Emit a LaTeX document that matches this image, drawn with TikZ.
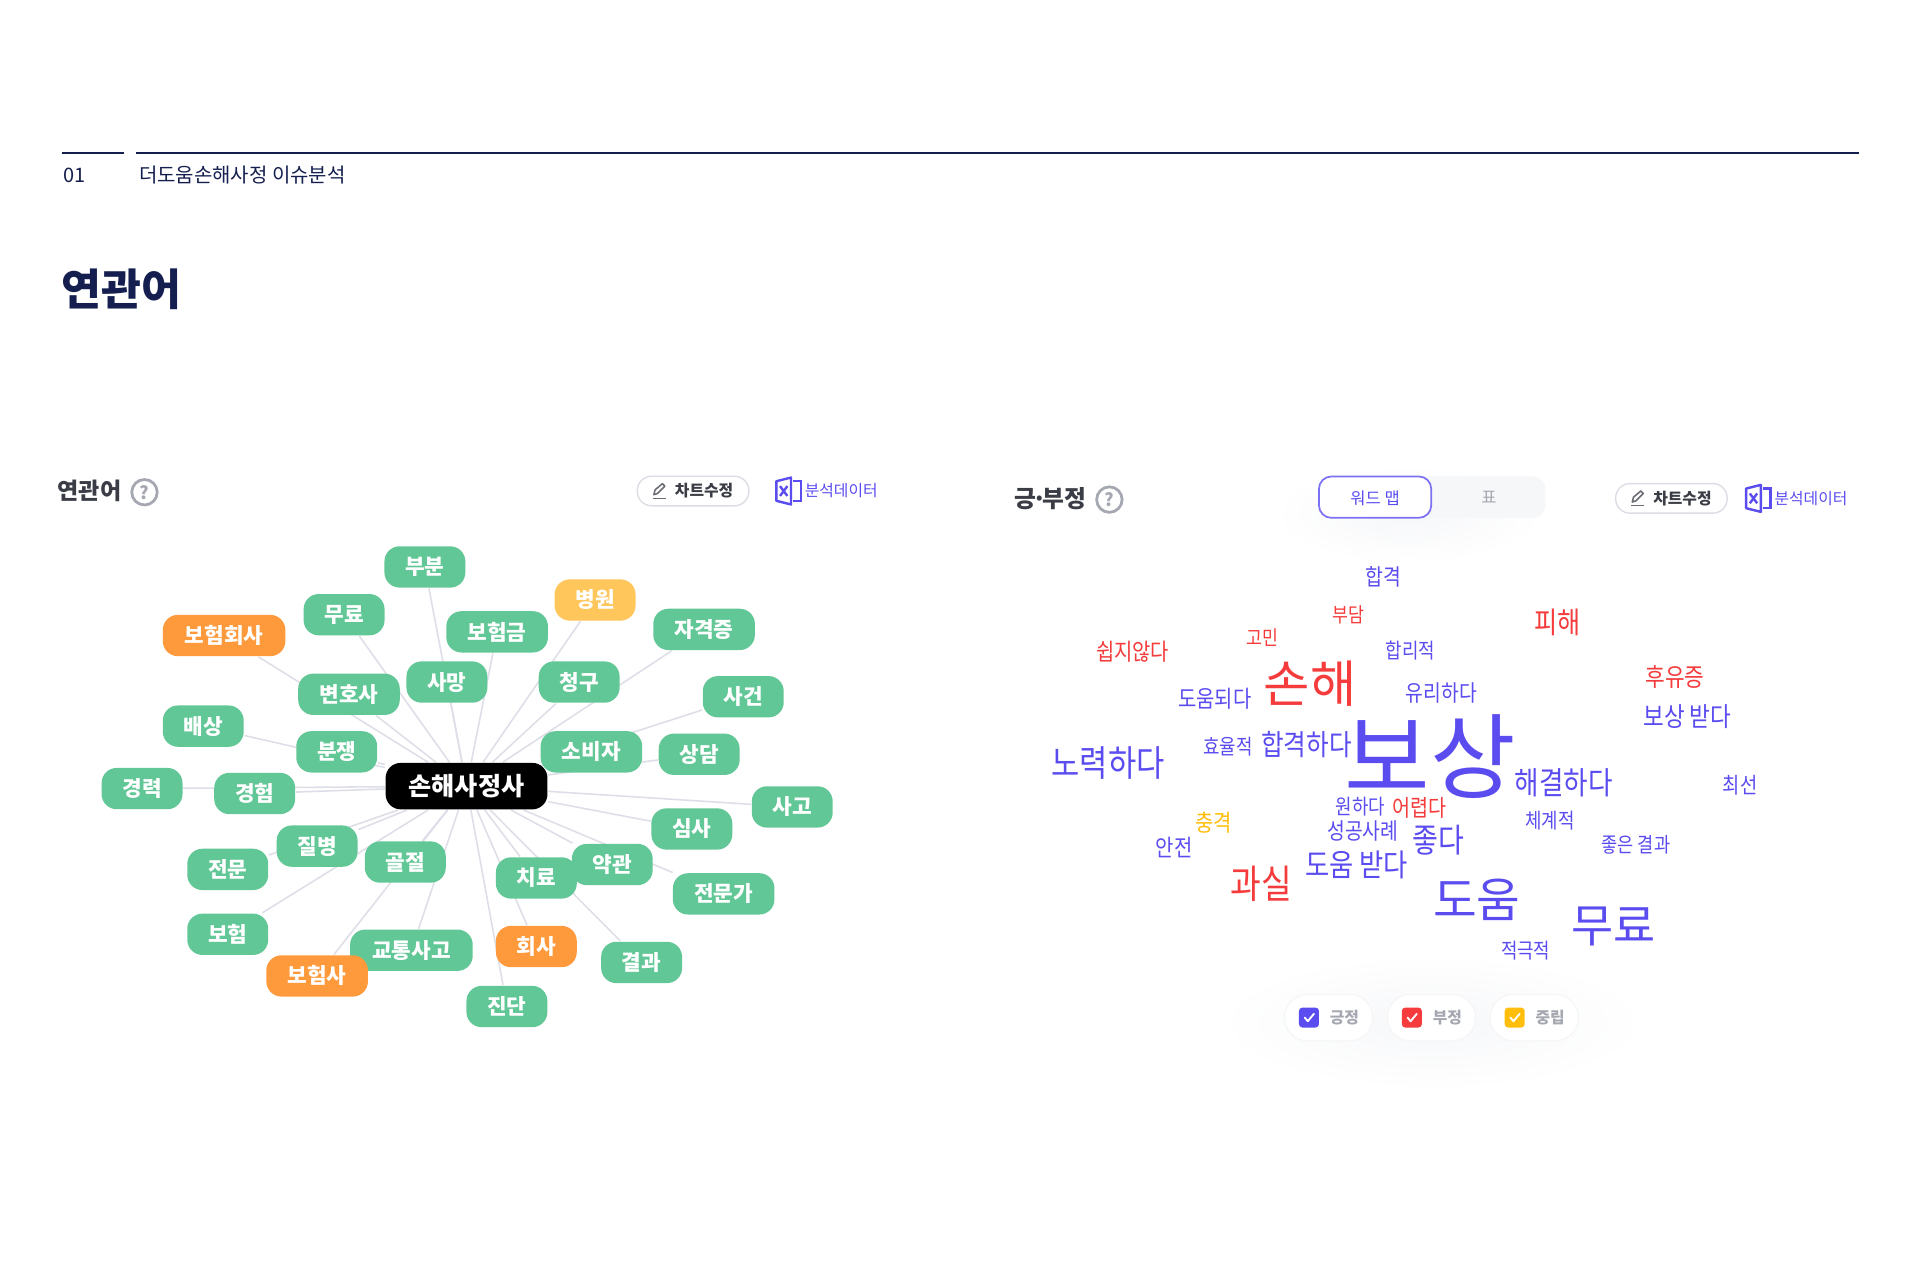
\documentclass[tikz,border=0pt]{standalone}
\usepackage{fontspec}
\setmainfont{Noto Sans CJK KR}
\newfontfamily\cloudfont[FakeStretch=0.85]{Noto Sans CJK KR}
\usetikzlibrary{backgrounds}
\definecolor{navy}{HTML}{141F4F}
\definecolor{inkdark}{HTML}{3A3D45}
\definecolor{mint}{HTML}{62C796}
\definecolor{tangerine}{HTML}{FF9A3C}
\definecolor{honey}{HTML}{FFC65C}
\definecolor{linkgray}{HTML}{DEDEE8}
\definecolor{violet}{HTML}{5B4CF0}
\definecolor{coral}{HTML}{F53B3B}
\definecolor{amber}{HTML}{FFBE0B}
\definecolor{softgray}{HTML}{A5A8B0}
\definecolor{palegray}{HTML}{F6F7F9}
\definecolor{pillline}{HTML}{DCDDE4}
\newcommand{\wsize}[1]{\fontsize{#1}{#1}\selectfont}
\tikzset{
	term/.style={fill=mint, text=white, rounded corners=4.4pt, minimum width=23.5pt, minimum height=12pt, inner sep=0pt, font=\bfseries\wsize{6.2}},
	termwide/.style={term, minimum width=29.5pt},
	termlong/.style={term, minimum width=35.6pt},
	hot/.style={fill=tangerine},
	warm/.style={fill=honey},
	link/.style={draw=linkgray, line width=.45pt},
	plus/.style={text=violet, inner sep=0pt},
	minus/.style={text=coral, inner sep=0pt},
	calm/.style={text=amber, inner sep=0pt},
	pill/.style={draw=pillline, fill=white, rounded corners=4.2pt, minimum width=32.4pt, minimum height=8.6pt, inner sep=0pt, line width=.4pt},
	chip/.style={fill=white, draw=black!4, rounded corners=6.7pt, minimum width=25.6pt, minimum height=13.5pt, inner sep=0pt, line width=.3pt},
	help/.style={circle, draw=softgray, text=softgray, line width=.8pt, minimum size=7.4pt, inner sep=0pt, font=\bfseries\wsize{5.2}},
	excelmark/.pic={
		\draw[violet, line width=.7pt, line join=round] (-10,-8) -- (2,-11) -- (2,11) -- (-10,8) -- cycle;
		\draw[violet, line width=.7pt] (4,-8) -- (10,-8) -- (10,8) -- (4,8);
		\draw[violet, line width=.7pt] (-7,-4) -- (-1,4) (-7,4) -- (-1,-4);
	},
	pencilmark/.pic={
		\draw[inkdark!75, line width=.45pt, line join=round] (-5,3) -- (-4,-1) -- (2,-6) -- (4,-4) -- (-2,2) -- cycle;
		\draw[inkdark!75, line width=.45pt] (-6,6) -- (5,6);
	},
	tickmark/.pic={
		\draw[white, line width=.55pt, line cap=round, line join=round] (-3.5,0) -- (-1,3) -- (4,-3);
	},
}
\begin{document}
\begin{tikzpicture}[x=0.0125cm, y=-0.0125cm]
	\useasboundingbox (0,0) rectangle (1568,1045.33);

	\coordinate (ruleA) at (51,125);
	\coordinate (ruleB) at (101,125);
	\coordinate (ruleC) at (111,125);
	\coordinate (ruleD) at (1518,125);
	\draw[navy, line width=.5pt] (ruleA) -- (ruleB);
	\draw[navy, line width=.5pt] (ruleC) -- (ruleD);
	\node[text=navy, font=\wsize{5.8}, inner sep=0pt] (chapternum) at (61,143) {01};
	\node[text=navy, font=\wsize{5.8}, inner sep=0pt, anchor=west] (chaptername) at (113,143) {더도움손해사정 이슈분석};
	\node[text=navy, font=\bfseries\wsize{12.6}, inner sep=0pt] (pagetitle) at (99,236) {연관어};

	\node[text=inkdark, font=\bfseries\wsize{6.7}, inner sep=0pt] (lefttitle) at (73,401) {연관어};
	\node[help] (lefthelp) at (118,402) {?};
	\node[pill] (leftedit) at (566,401) {};
	\pic at (539,401) {pencilmark};
	\node[text=inkdark, font=\bfseries\wsize{4.6}, inner sep=0pt] (leftedittext) at (575,401) {차트수정};
	\pic at (644,401) {excelmark};
	\node[text=violet, font=\wsize{4.6}, inner sep=0pt] (leftdata) at (687,401) {분석데이터};

	\node[term, fill=black, minimum width=47pt, minimum height=13.5pt, font=\bfseries\wsize{7.3}] (center) at (381,642) {손해사정사};
	\node[term] (bubun) at (347,463) {부분};
	\node[term] (muryo) at (281,502) {무료};
	\node[termlong, hot] (insurer) at (183,519) {보험회사};
	\node[termwide] (claimmoney) at (406,516) {보험금};
	\node[term, warm] (hospital) at (486,490) {병원};
	\node[termwide] (license) at (575,514) {자격증};
	\node[termwide] (lawyer) at (285,567) {변호사};
	\node[term] (death) at (365,557) {사망};
	\node[term] (claim) at (473,557) {청구};
	\node[term] (incident) at (607,569) {사건};
	\node[term] (payment) at (166,593) {배상};
	\node[term] (dispute) at (275,614) {분쟁};
	\node[termwide] (consumer) at (483,614) {소비자};
	\node[term] (consult) at (571,616) {상담};
	\node[term] (career) at (116,644) {경력};
	\node[term] (experience) at (208,648) {경험};
	\node[term] (accident) at (647,659) {사고};
	\node[term] (review) at (565,677) {심사};
	\node[term] (disease) at (259,691) {질병};
	\node[term] (fracture) at (331,704) {골절};
	\node[term] (special) at (186,710) {전문};
	\node[term] (terms) at (500,706) {약관};
	\node[term] (therapy) at (438,717) {치료};
	\node[termwide] (expert) at (591,730) {전문가};
	\node[term] (insurance) at (186,763) {보험};
	\node[termlong] (traffic) at (336,776) {교통사고};
	\node[term, hot] (company) at (438,773) {회사};
	\node[term] (result) at (524,786) {결과};
	\node[termwide, hot] (carrier) at (259,797) {보험사};
	\node[term] (diagnosis) at (414,822) {진단};

	\begin{scope}[on background layer]
		\fill[white] (0,0) rectangle (1568,1045.33);
		\shade[inner color=palegray, outer color=white] (1170,835) ellipse (175 and 55);
		\shade[inner color=palegray, outer color=white] (1150,420) ellipse (110 and 40);
		\draw[link] (center) -- (bubun);
		\draw[link] (center) -- (muryo);
		\draw[link] (center) -- (insurer);
		\draw[link] (center) -- (claimmoney);
		\draw[link] (center) -- (hospital);
		\draw[link] (center) -- (license);
		\draw[link] (center) -- (lawyer);
		\draw[link] (center) -- (death);
		\draw[link] (center) -- (claim);
		\draw[link] (center) -- (incident);
		\draw[link] (center) -- (payment);
		\draw[link] (center) -- (dispute);
		\draw[link] (center) -- (consumer);
		\draw[link] (center) -- (consult);
		\draw[link] (center) -- (career);
		\draw[link] (center) -- (experience);
		\draw[link] (center) -- (accident);
		\draw[link] (center) -- (review);
		\draw[link] (center) -- (disease);
		\draw[link] (center) -- (fracture);
		\draw[link] (center) -- (special);
		\draw[link] (center) -- (terms);
		\draw[link] (center) -- (therapy);
		\draw[link] (center) -- (expert);
		\draw[link] (center) -- (insurance);
		\draw[link] (center) -- (traffic);
		\draw[link] (center) -- (company);
		\draw[link] (center) -- (result);
		\draw[link] (center) -- (carrier);
		\draw[link] (center) -- (diagnosis);
	\end{scope}

	\node[text=inkdark, font=\bfseries\wsize{6.9}, inner sep=0pt] (righttitle) at (858,407) {긍\kern-1.2pt·\kern-1.2pt부정};
	\node[help] (righthelp) at (906,408) {?};
	\node[fill=palegray, rounded corners=3.6pt, minimum width=66.2pt, minimum height=12pt, inner sep=0pt] (toggleback) at (1169,406) {};
	\node[draw=violet!80, fill=white, rounded corners=3.6pt, minimum width=32.6pt, minimum height=12pt, inner sep=0pt, line width=.5pt] (toggleon) at (1123,406) {};
	\node[text=violet, font=\wsize{4.8}, inner sep=0pt] (toggleword) at (1123,407) {워드 맵};
	\node[text=softgray, font=\wsize{4.8}, inner sep=0pt] (toggletable) at (1216,406) {표};
	\node[pill] (rightedit) at (1365,407) {};
	\pic at (1338,407) {pencilmark};
	\node[text=inkdark, font=\bfseries\wsize{4.6}, inner sep=0pt] (rightedittext) at (1374,407) {차트수정};
	\pic at (1436,407) {excelmark};
	\node[text=violet, font=\wsize{4.6}, inner sep=0pt] (rightdata) at (1479,407) {분석데이터};

	\node[plus, font=\cloudfont\wsize{6.6}] (w1) at (1130,471) {합격};
	\node[minus, font=\cloudfont\wsize{5.9}] (w2) at (1101,502) {부담};
	\node[minus, font=\cloudfont\wsize{8.6}] (w3) at (1272,508) {피해};
	\node[minus, font=\cloudfont\wsize{5.9}] (w4) at (1031,521) {고민};
	\node[minus, font=\cloudfont\wsize{6.8}] (w5) at (925,532) {쉽지않다};
	\node[plus, font=\cloudfont\wsize{6.1}] (w6) at (1152,531) {합리적};
	\node[minus, font=\wsize{14.6}] (w7) at (1070,558) {손해};
	\node[plus, font=\cloudfont\wsize{6.6}] (w8) at (1177,566) {유리하다};
	\node[plus, font=\cloudfont\wsize{6.8}] (w9) at (992,571) {도움되다};
	\node[minus, font=\cloudfont\wsize{7.3}] (w10) at (1368,553) {후유증};
	\node[plus, font=\cloudfont\wsize{7.7}] (w11) at (1378,585) {보상 받다};
	\node[plus, font=\cloudfont\wsize{6.1}] (w12) at (1003,610) {효율적};
	\node[plus, font=\cloudfont\wsize{8.4}] (w13) at (1067,608) {합격하다};
	\node[plus, font=\wsize{27}] (w14) at (1168,618) {보상};
	\node[plus, font=\cloudfont\wsize{10.5}] (w15) at (905,623) {노력하다};
	\node[plus, font=\cloudfont\wsize{9.1}] (w16) at (1277,639) {해결하다};
	\node[plus, font=\cloudfont\wsize{6.4}] (w17) at (1421,641) {최선};
	\node[plus, font=\cloudfont\wsize{6.1}] (w18) at (1111,659) {원하다};
	\node[minus, font=\cloudfont\wsize{6.7}] (w19) at (1159,660) {어렵다};
	\node[calm, font=\cloudfont\wsize{6.8}] (w20) at (991,672) {충격};
	\node[plus, font=\cloudfont\wsize{6.1}] (w21) at (1266,670) {체계적};
	\node[plus, font=\cloudfont\wsize{6.6}] (w22) at (1113,679) {성공사례};
	\node[plus, font=\cloudfont\wsize{9.6}] (w23) at (1175,686) {좋다};
	\node[plus, font=\cloudfont\wsize{6.8}] (w24) at (959,692) {안전};
	\node[plus, font=\cloudfont\wsize{6}] (w25) at (1336,690) {좋은 결과};
	\node[plus, font=\cloudfont\wsize{9}] (w26) at (1108,706) {도움 받다};
	\node[minus, font=\cloudfont\wsize{11.4}] (w27) at (1030,722) {과실};
	\node[plus, font=\wsize{13.8}] (w28) at (1206,735) {도움};
	\node[plus, font=\wsize{13.3}] (w29) at (1318,757) {무료};
	\node[plus, font=\cloudfont\wsize{6.1}] (w30) at (1246,776) {적극적};

	\node[chip] (chippos) at (1085,831) {};
	\node[chip] (chipneg) at (1169,831) {};
	\node[chip] (chipneu) at (1253,831) {};
	\node[fill=violet, rounded corners=1pt, minimum size=5.8pt, inner sep=0pt] (boxpos) at (1069,831) {};
	\node[fill=coral, rounded corners=1pt, minimum size=5.8pt, inner sep=0pt] (boxneg) at (1153,831) {};
	\node[fill=amber, rounded corners=1pt, minimum size=5.8pt, inner sep=0pt] (boxneu) at (1237,831) {};
	\pic at (1069,831) {tickmark};
	\pic at (1153,831) {tickmark};
	\pic at (1237,831) {tickmark};
	\node[text=softgray, font=\bfseries\wsize{4.6}, inner sep=0pt] (labelpos) at (1098,831) {긍정};
	\node[text=softgray, font=\bfseries\wsize{4.6}, inner sep=0pt] (labelneg) at (1182,831) {부정};
	\node[text=softgray, font=\bfseries\wsize{4.6}, inner sep=0pt] (labelneu) at (1266,831) {중립};
\end{tikzpicture}
\end{document}
